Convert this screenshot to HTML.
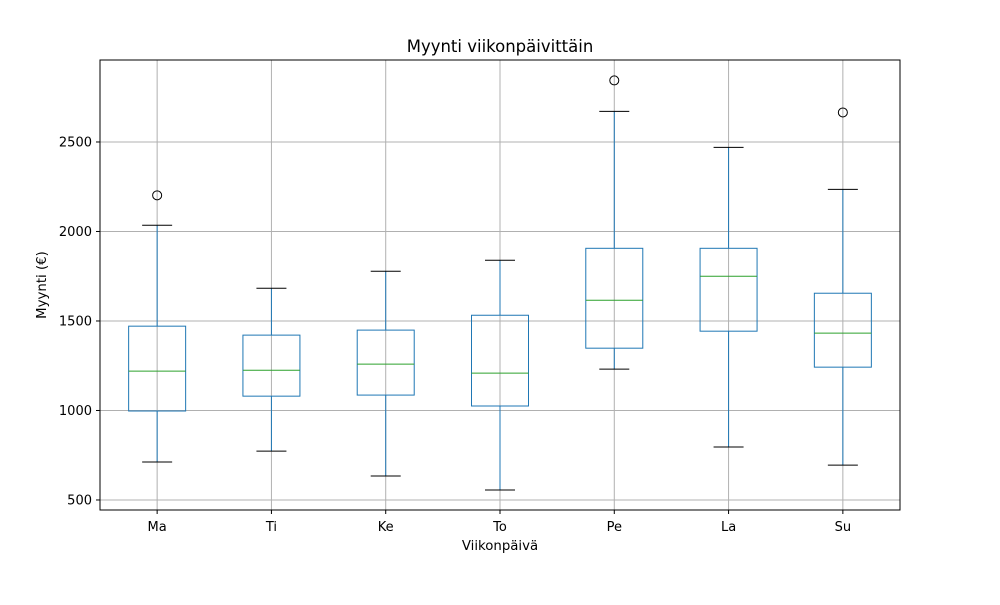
<!DOCTYPE html>
<html><head><meta charset="utf-8"><style>
body{margin:0;background:#fff;}
svg text{font-family:"DejaVu Sans","Liberation Sans",sans-serif;fill:#000;}
</style></head><body>
<svg id="chart" width="1000" height="600">
<rect x="0" y="0" width="1000" height="600" fill="#fff"/>
<g id="grid"></g>
<g id="boxes"></g>
<rect x="100" y="60" width="800" height="450" fill="none" stroke="#000" stroke-width="1"/>
<g id="axes"></g>
<text x="500" y="52" text-anchor="middle" font-size="16.5">Myynti viikonpäivittäin</text>
<text x="500" y="550" text-anchor="middle" font-size="13.3">Viikonpäivä</text>
<text x="46" y="285" text-anchor="middle" font-size="13.3" transform="rotate(-90 46 285)">Myynti (€)</text>
</svg>
<script>
const categories=["Ma","Ti","Ke","To","Pe","La","Su"];
const whiskerLow=[712,773,634,556,1231,796,695];
const q1=[997,1080,1086,1025,1348,1443,1242];
const medians=[1220,1225,1259,1209,1616,1750,1432];
const q3=[1471,1421,1449,1532,1906,1906,1655];
const whiskerHigh=[2035,1683,1778,1839,2671,2470,2235];
const outliers=[[2202],[],[],[],[2844],[],[2665]];
const yTicks=[500,1000,1500,2000,2500];

const L=100,R=900,T=60,B=510,yMin=444,yMax=2958;
const y=v=>B-(v-yMin)/(yMax-yMin)*(B-T);
const step=(R-L)/categories.length;
const x=i=>L+step*(i+0.5);
const NS="http://www.w3.org/2000/svg";
function mk(parent,tag,attrs){const e=document.createElementNS(NS,tag);for(const k in attrs)e.setAttribute(k,attrs[k]);document.getElementById(parent).appendChild(e);return e;}

yTicks.forEach(t=>{
  const g=mk("grid","line",{x1:L,x2:R,y1:y(t),y2:y(t),stroke:"#b0b0b0","stroke-width":1});
  
  
  const tk=mk("axes","line",{x1:L-4,x2:L,y1:y(t),y2:y(t),stroke:"#000"});
  
  
  const tx=mk("axes","text",{x:L-8,y:y(t)+4.5,"text-anchor":"end","font-size":13});
  tx.textContent=t;
  
  
});
categories.forEach((c,i)=>{
  const cx=x(i);
  const g=mk("grid","line",{x1:cx,x2:cx,y1:T,y2:B,stroke:"#b0b0b0","stroke-width":1});
  
  
  const tk=mk("axes","line",{x1:cx,x2:cx,y1:B,y2:B+4,stroke:"#000"});
  
  
  const tx=mk("axes","text",{x:cx,y:B+21,"text-anchor":"middle","font-size":13});
  tx.textContent=c;
  
  
  const bw=57,cw=30,col="#1f77b4";
  const w1=mk("boxes","line",{x1:cx,x2:cx,y1:y(whiskerLow[i]),y2:y(q1[i]),stroke:col});
  
  
  const w2=mk("boxes","line",{x1:cx,x2:cx,y1:y(q3[i]),y2:y(whiskerHigh[i]),stroke:col});
  
  
  const c1=mk("boxes","line",{x1:cx-cw/2,x2:cx+cw/2,y1:y(whiskerLow[i]),y2:y(whiskerLow[i]),stroke:"#000"});
  
  
  const c2=mk("boxes","line",{x1:cx-cw/2,x2:cx+cw/2,y1:y(whiskerHigh[i]),y2:y(whiskerHigh[i]),stroke:"#000"});
  
  
  const b=mk("boxes","rect",{x:cx-bw/2,y:y(q3[i]),width:bw,height:y(q1[i])-y(q3[i]),fill:"none",stroke:col});
  
  
  const m=mk("boxes","line",{x1:cx-bw/2,x2:cx+bw/2,y1:y(medians[i]),y2:y(medians[i]),stroke:"#2ca02c"});
  
  
  outliers[i].forEach(o=>{
    const p=mk("boxes","circle",{cx:cx,cy:y(o),r:4.5,fill:"none",stroke:"#000"});
    
    
  });
});
</script>
</body></html>
